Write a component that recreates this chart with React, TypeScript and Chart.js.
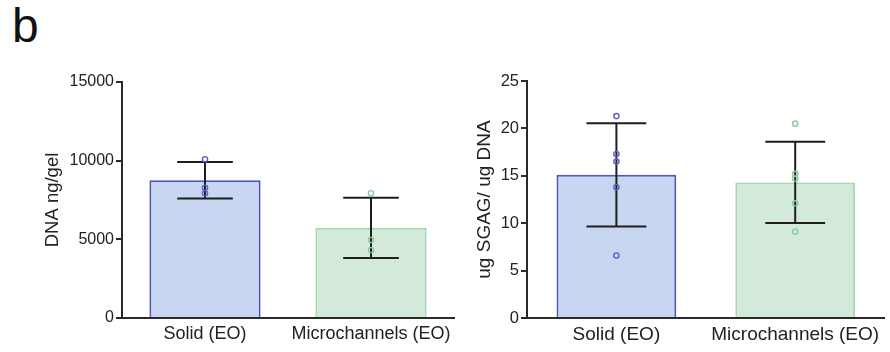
import React, { useEffect, useRef } from 'react';
import { Chart, registerables } from 'chart.js';
Chart.register(...registerables);

const FONT = "'Liberation Sans', Arial, Helvetica, sans-serif";

const categories = ['Solid (EO)', 'Microchannels (EO)'];

const dnaMeans = [8750, 5730];
const dnaSD = [1160, 1910];
const dnaSolidPoints = [10090, 8280, 7930];
const dnaMicroPoints = [7930, 4960, 4320];
const dnaTicks = [0, 5000, 10000, 15000];

const gagMeans = [15.1, 14.3];
const gagSD = [5.45, 4.28];
const gagSolidPoints = [21.3, 17.3, 16.5, 13.8, 6.6];
const gagMicroPoints = [20.5, 15.2, 14.7, 12.1, 9.1];
const gagTicks = [0, 5, 10, 15, 20, 25];

const barFills = ['#c8d6f1', '#d3eadb'];
const barBorders = ['#5056b4', '#a4d5b4'];
const pointColors = ['#5a60c4', '#8ccb9c'];

const errorBarPlugin = {
  id: 'errorBars',
  afterDatasetDraw(chart: any, args: any, opts: any) {
    const meta = args.meta;
    if (meta.type !== 'bar') return;
    const sd: number[] = opts.sd;
    const ctx = chart.ctx;
    const y = chart.scales.y;
    ctx.save();
    ctx.strokeStyle = '#1e1e1e';
    ctx.lineWidth = 2;
    meta.data.forEach((bar: any, i: number) => {
      const mean = chart.data.datasets[args.index].data[i];
      const top = y.getPixelForValue(mean + sd[i]);
      const bot = y.getPixelForValue(mean - sd[i]);
      const half = bar.width / 4;
      ctx.beginPath();
      ctx.moveTo(bar.x, top);
      ctx.lineTo(bar.x, bot);
      ctx.moveTo(bar.x - half, top);
      ctx.lineTo(bar.x + half, top);
      ctx.moveTo(bar.x - half, bot);
      ctx.lineTo(bar.x + half, bot);
      ctx.stroke();
    });
    ctx.restore();
  },
};

type PanelProps = {
  left: number;
  width: number;
  means: number[];
  sd: number[];
  solidPts: number[];
  microPts: number[];
  ticks: number[];
  title: string;
  axisLeft: number;
  padTop: number;
  padRight: number;
  titleCenter: number;
  tickSize: number;
  labelSize: number;
  titleSize: number;
};

function Panel(p: PanelProps) {
  const ref = useRef<HTMLCanvasElement>(null);
  useEffect(() => {
    if (!ref.current) return;
    const titleLine = p.titleSize * 1.2;
    const chart = new Chart(ref.current, {
      type: 'bar',
      data: {
        labels: categories,
        datasets: [
          {
            type: 'bar',
            data: p.means,
            backgroundColor: barFills,
            borderColor: barBorders,
            borderWidth: 2,
            borderSkipped: 'start',
            barPercentage: 0.67,
            categoryPercentage: 1,
            order: 1,
          } as any,
          {
            type: 'line',
            data: p.solidPts.map((v) => ({ x: categories[0], y: v })),
            showLine: false,
            pointRadius: 2.6,
            pointBorderWidth: 1.4,
            pointBackgroundColor: 'rgba(0,0,0,0)',
            pointBorderColor: pointColors[0],
            order: 0,
          } as any,
          {
            type: 'line',
            data: p.microPts.map((v) => ({ x: categories[1], y: v })),
            showLine: false,
            pointRadius: 2.6,
            pointBorderWidth: 1.4,
            pointBackgroundColor: 'rgba(0,0,0,0)',
            pointBorderColor: pointColors[1],
            order: 0,
          } as any,
        ],
      },
      options: {
        responsive: false,
        animation: false,
        devicePixelRatio: 1,
        layout: { padding: { top: p.padTop, right: p.padRight, left: 0, bottom: 0 } },
        plugins: {
          legend: { display: false },
          tooltip: { enabled: false },
          errorBars: { sd: p.sd },
        } as any,
        scales: {
          x: {
            type: 'category',
            offset: true,
            grid: { display: false, drawTicks: false },
            border: { display: true, color: '#2a2a2a', width: 2 },
            ticks: {
              color: '#222',
              font: { family: FONT, size: p.labelSize },
              padding: 5,
              maxRotation: 0,
              minRotation: 0,
              autoSkip: false,
            },
            afterFit: (s: any) => {
              s.height = 34;
            },
          },
          y: {
            min: p.ticks[0],
            max: p.ticks[p.ticks.length - 1],
            grid: {
              drawOnChartArea: false,
              drawTicks: true,
              tickLength: 6,
              color: '#2a2a2a',
              lineWidth: 2,
            },
            border: { display: true, color: '#2a2a2a', width: 2 },
            afterBuildTicks: (s: any) => {
              s.ticks = p.ticks.map((v) => ({ value: v }));
            },
            ticks: {
              color: '#222',
              font: { family: FONT, size: p.tickSize },
              padding: 2,
              callback: (v: any) => String(v),
            },
            title: {
              display: true,
              text: p.title,
              color: '#222',
              font: { family: FONT, size: p.titleSize },
              padding: { top: p.titleCenter - titleLine / 2, bottom: 0 },
            },
            afterFit: (s: any) => {
              s.width = p.axisLeft;
            },
          },
        },
      },
      plugins: [errorBarPlugin],
    } as any);
    return () => chart.destroy();
  }, []);
  return (
    <canvas
      ref={ref}
      width={p.width}
      height={352}
      style={{ position: 'absolute', left: p.left, top: 0, width: p.width, height: 352 }}
    />
  );
}

export default function App() {
  return (
    <div style={{ position: 'absolute', left: 0, top: 0, width: 890, height: 352, background: '#fff', overflow: 'hidden' }}>
      <div
        style={{
          position: 'absolute',
          left: 12,
          top: 2,
          fontFamily: FONT,
          fontSize: 48,
          lineHeight: '48px',
          color: '#111',
        }}
      >
        b
      </div>
      <Panel
        left={0}
        width={462}
        means={dnaMeans}
        sd={dnaSD}
        solidPts={dnaSolidPoints}
        microPts={dnaMicroPoints}
        ticks={dnaTicks}
        title="DNA ng/gel"
        axisLeft={122}
        padTop={82}
        padRight={8}
        titleCenter={53}
        tickSize={16}
        labelSize={18}
        titleSize={18.5}
      />
      <Panel
        left={400}
        width={490}
        means={gagMeans}
        sd={gagSD}
        solidPts={gagSolidPoints}
        microPts={gagMicroPoints}
        ticks={gagTicks}
        title="ug SGAG/ ug DNA"
        axisLeft={127}
        padTop={81}
        padRight={5}
        titleCenter={85}
        tickSize={16.5}
        labelSize={19}
        titleSize={19}
      />
    </div>
  );
}
